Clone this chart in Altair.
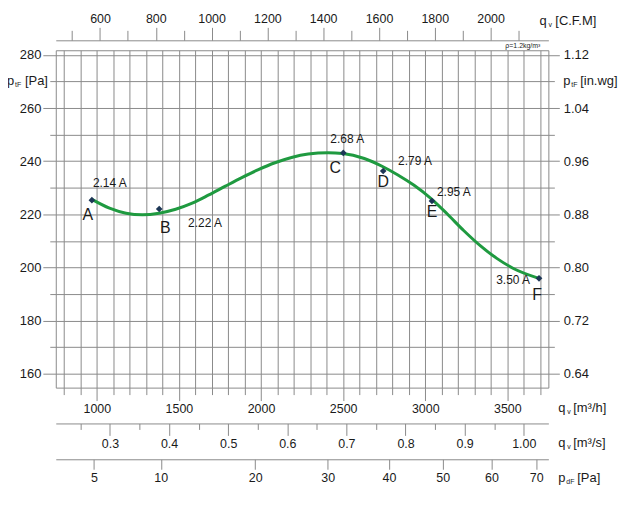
import altair as alt
import pandas as pd

# ---------------- data ----------------
curve_q = [970, 1077, 1178, 1278, 1379, 1480, 1581, 1682, 1783, 1883, 1984, 2085,
           2186, 2287, 2408, 2498, 2629, 2740, 2831, 2932, 3032, 3133, 3234, 3335,
           3436, 3537, 3692]
curve_p = [225.6, 222.3, 220.4, 219.8, 220.4, 221.9, 224.2, 227.3, 230.6, 233.8,
           236.8, 239.4, 241.4, 242.7, 243.2, 242.9, 241.0, 238.0, 234.9, 230.9,
           226.1, 220.2, 213.9, 208.2, 203.4, 199.6, 195.9]

point_q = [970, 1380, 2501, 2744, 3041, 3693]
point_p = [225.3, 222.0, 243.1, 236.3, 225.0, 195.9]
point_letter = ["A", "B", "C", "D", "E", "F"]
point_current = ["2.14 A", "2.22 A", "2.68 A", "2.79 A", "2.95 A", "3.50 A"]

x_ticks_m3h = list(range(800, 3701, 100))
y_ticks_pa = list(range(160, 281, 10))
y_ticks_inwg = [0.64, 0.68, 0.72, 0.76, 0.80, 0.84, 0.88, 0.92, 0.96, 1.00, 1.04, 1.08, 1.12]
x_ticks_cfm = list(range(500, 2101, 100))
x_ticks_m3s = [0.25, 0.3, 0.35, 0.4, 0.45, 0.5, 0.55, 0.6, 0.65, 0.7, 0.75, 0.8, 0.85,
               0.9, 0.95, 1.0]
x_ticks_pdf = [5, 10, 20, 30, 40, 50, 60, 70]

# unit conversions
CFM = 1.699          # m3/h per CFM
PA_PER_INWG = 250.0  # as used by the chart's right axis
K_DYN = 5.18e-6      # p_dF = K * q^2

X_DOM = [750, 3750]
Y_DOM = [154.75, 281.75]

FONT = "Liberation Sans"
GRID = "#8a8a8a"
TXT = "#1a1a1a"
GREEN = "#1f9a40"
NAVY = "#1d3656"

curve_df = pd.DataFrame({"q": curve_q, "p": curve_p})
pts_df = pd.DataFrame({"q": point_q, "p": point_p, "letter": point_letter,
                       "cur": point_current})

xs = alt.Scale(domain=X_DOM, nice=False, zero=False)
ys = alt.Scale(domain=Y_DOM, nice=False, zero=False)

main_x_axis = alt.Axis(
    orient="bottom", values=x_ticks_m3h, grid=True, gridColor=GRID, gridWidth=1,
    domain=False, tickColor=GRID,
    tickSize={"condition": {"test": "datum.value % 500 === 0", "value": 13}, "value": 7},
    labelExpr="datum.value % 500 === 0 ? datum.label : ''", format="d",
    labelFont=FONT, labelFontSize=12.5, labelColor=TXT, labelPadding=2,
    labelFlush=False, labelOverlap=False, title=None)
main_y_axis = alt.Axis(
    orient="left", values=y_ticks_pa, grid=True, gridColor=GRID, gridWidth=1,
    domain=False, tickColor=GRID,
    tickSize={"condition": {"test": "datum.value % 20 === 0", "value": 13}, "value": 6},
    labelExpr="datum.value % 20 === 0 ? datum.label : ''", format="d",
    labelFont=FONT, labelFontSize=13, labelColor=TXT, labelPadding=2,
    labelFlush=False, labelOverlap=False, title=None)

grid_layer = alt.Chart(curve_df).mark_point(opacity=0).encode(
    x=alt.X("q:Q", scale=xs, axis=main_x_axis),
    y=alt.Y("p:Q", scale=ys, axis=main_y_axis))

X2 = alt.X("q:Q", scale=xs, axis=None)
Y2 = alt.Y("p:Q", scale=ys, axis=None)

curve = alt.Chart(curve_df).mark_line(
    color=GREEN, strokeWidth=3, interpolate="monotone").encode(x=X2, y=Y2)

points = alt.Chart(pts_df).mark_point(
    shape="diamond", filled=True, size=45, color=NAVY, opacity=1).encode(x=X2, y=Y2)

# label offsets (style only)
cur_style = {
    "A": dict(dx=1, dy=-17, align="left"),
    "B": dict(dx=29, dy=14, align="left"),
    "C": dict(dx=-13, dy=-14, align="left"),
    "D": dict(dx=15, dy=-10, align="left"),
    "E": dict(dx=5, dy=-9, align="left"),
    "F": dict(dx=-9, dy=2, align="right"),
}
let_style = {
    "A": dict(dx=-4, dy=15),
    "B": dict(dx=6, dy=19),
    "C": dict(dx=-8, dy=15),
    "D": dict(dx=0, dy=11),
    "E": dict(dx=0, dy=11),
    "F": dict(dx=-2, dy=17),
}

label_layers = []
for L in point_letter:
    sub = alt.Chart(pts_df).transform_filter(alt.datum.letter == L)
    cs = cur_style[L]
    label_layers.append(sub.mark_text(
        font=FONT, fontSize=12, color=TXT, baseline="middle",
        align=cs["align"], dx=cs["dx"], dy=cs["dy"]).encode(x=X2, y=Y2, text="cur:N"))
    ls = let_style[L]
    label_layers.append(sub.mark_text(
        font=FONT, fontSize=16, color=TXT, baseline="middle", align="center",
        dx=ls["dx"], dy=ls["dy"]).encode(x=X2, y=Y2, text="letter:N"))


def txt(s, x, y, size=13, align="left", ydatum=None):
    enc = dict(text=alt.value(s), x=alt.value(x))
    enc["y"] = alt.datum(ydatum, scale=ys, axis=None) if ydatum is not None else alt.value(y)
    return alt.Chart(pd.DataFrame({"a": [0]})).mark_text(
        font=FONT, fontSize=size, color=TXT, align=align, baseline="middle",
        dy=(0 if ydatum is None else y)).encode(**enc)


W, H = 495, 339
ox, oy = 56, 49.3
titles = [
    # left: p_tF [Pa]
    txt("p", 7 - ox, 0, ydatum=270), txt("tF", 15 - ox, 4, size=7, ydatum=270),
    txt("[Pa]", 25 - ox, 0, ydatum=270),
    # right: p_tF [in.wg]
    txt("p", 566 - ox, 0, ydatum=270), txt("tF", 574 - ox, 4, size=7, ydatum=270),
    txt("[in.wg]", 583 - ox, 0, ydatum=270),
    # top: q_v [C.F.M]
    txt("q", 542 - ox, 20 - oy), txt("v", 551 - ox, 24 - oy, size=7),
    txt("[C.F.M]", 558 - ox, 20 - oy),
    # bottom: q_v [m3/h]
    txt("q", 561 - ox, 409 - oy), txt("v", 570 - ox, 413 - oy, size=7),
    txt("[m³/h]", 576 - ox, 409 - oy),
    txt("q", 561 - ox, 444 - oy), txt("v", 570 - ox, 448 - oy, size=7),
    txt("[m³/s]", 576 - ox, 444 - oy),
    txt("p", 561 - ox, 479 - oy), txt("dF", 569 - ox, 483 - oy, size=7),
    txt("[Pa]", 580 - ox, 479 - oy),
    txt("ρ=1.2kg/m³", 543 - ox, 45 - oy, size=7, align="right"),
]

# ---------------- secondary axes ----------------
cfm_layer = alt.Chart(pd.DataFrame({"cfm": x_ticks_cfm})).mark_rule(opacity=0).encode(
    x=alt.X("cfm:Q", scale=alt.Scale(domain=[X_DOM[0] / CFM, X_DOM[1] / CFM],
                                     nice=False, zero=False),
            axis=alt.Axis(orient="top", offset=10, values=x_ticks_cfm, grid=False,
                          domain=True, domainColor=GRID, tickColor=GRID,
                          tickSize={"condition": {"test": "datum.value % 200 === 0",
                                                  "value": 13}, "value": 10},
                          labelExpr="datum.value % 200 === 0 ? datum.label : ''",
                          format="d", labelFont=FONT, labelFontSize=12.5,
                          labelColor=TXT, labelPadding=2, labelFlush=False,
                          labelOverlap=False, title=None)))

m3s_layer = alt.Chart(pd.DataFrame({"m3s": x_ticks_m3s})).mark_rule(opacity=0).encode(
    x=alt.X("m3s:Q", scale=alt.Scale(domain=[X_DOM[0] / 3600, X_DOM[1] / 3600],
                                     nice=False, zero=False),
            axis=alt.Axis(orient="bottom", offset=36, values=x_ticks_m3s, grid=False,
                          domain=True, domainColor=GRID, tickColor=GRID,
                          tickSize={"condition": {"test": "round(datum.value*100) % 10 === 0",
                                                  "value": 12}, "value": 6},
                          labelExpr="round(datum.value*100) % 10 === 0 ? (datum.value >= 1 ? format(datum.value, '.2f') : format(datum.value, '.1f')) : ''",
                          labelFont=FONT, labelFontSize=12.5, labelColor=TXT,
                          labelPadding=2, labelFlush=False, labelOverlap=False,
                          title=None)))

pdf_layer = alt.Chart(pd.DataFrame({"pdf": x_ticks_pdf})).mark_rule(opacity=0).encode(
    x=alt.X("pdf:Q", scale=alt.Scale(type="sqrt",
                                     domain=[K_DYN * X_DOM[0] ** 2, K_DYN * X_DOM[1] ** 2],
                                     nice=False, zero=False),
            axis=alt.Axis(orient="bottom", offset=72, values=x_ticks_pdf, grid=False,
                          domain=True, domainColor=GRID, tickColor=GRID, tickSize=10,
                          format="d", labelFont=FONT, labelFontSize=12.5,
                          labelColor=TXT, labelPadding=2, labelFlush=False,
                          labelOverlap=False, title=None)))

inwg_layer = alt.Chart(pd.DataFrame({"w": y_ticks_inwg})).mark_rule(opacity=0).encode(
    y=alt.Y("w:Q", scale=alt.Scale(domain=[Y_DOM[0] / PA_PER_INWG, Y_DOM[1] / PA_PER_INWG],
                                   nice=False, zero=False),
            axis=alt.Axis(orient="right", values=y_ticks_inwg, grid=False, domain=False,
                          tickColor=GRID,
                          tickSize={"condition": {"test": "round(datum.value*100) % 8 === 0",
                                                  "value": 11}, "value": 6},
                          labelExpr="round(datum.value*100) % 8 === 0 ? format(datum.value, '.2f') : ''",
                          labelFont=FONT, labelFontSize=13, labelColor=TXT,
                          labelPadding=4, labelFlush=False, labelOverlap=False,
                          title=None)))

chart = alt.layer(grid_layer, cfm_layer, m3s_layer, pdf_layer, inwg_layer,
                  curve, points, *label_layers, *titles).resolve_scale(
    x="independent", y="independent"
).properties(
    width=W, height=H,
    padding={"left": 48, "top": 41.3, "right": 78, "bottom": 100},
    autosize=alt.AutoSizeParams(type="none"),
).configure_view(stroke=GRID, strokeWidth=1)

chart.save("out.html", embed_options={"renderer": "svg", "actions": False})
